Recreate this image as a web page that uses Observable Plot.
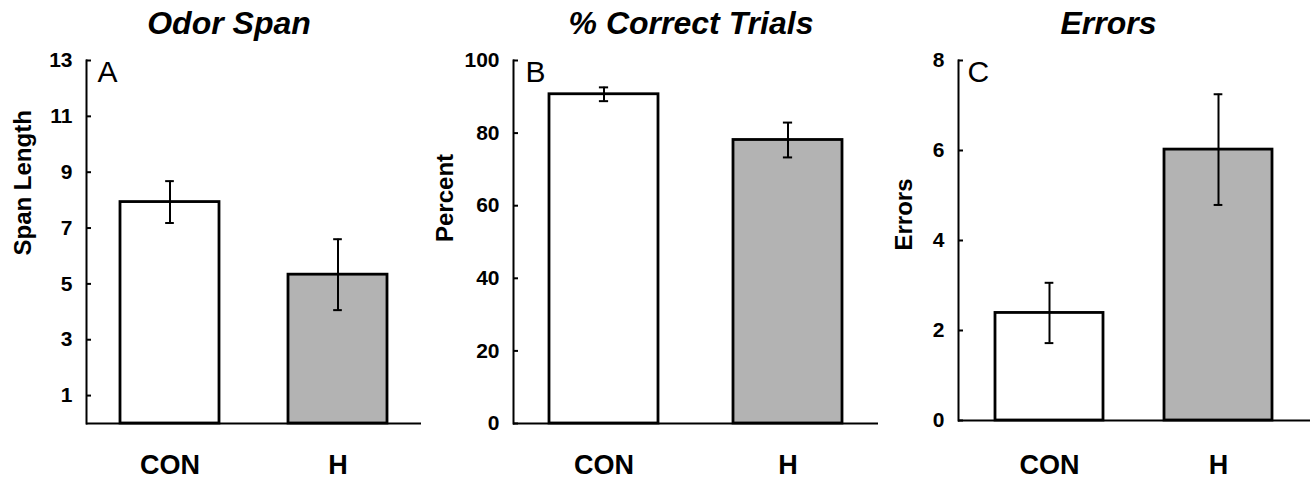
<!DOCTYPE html>
<html>
<head>
<meta charset="utf-8">
<script src="https://cdn.jsdelivr.net/npm/d3@7"></script>
<script src="https://cdn.jsdelivr.net/npm/@observablehq/plot@0.6"></script>
<style>
  html, body { margin: 0; padding: 0; background: #fff; }
  #row { display: flex; width: 1310px; height: 480px; }
  svg { overflow: visible; }
</style>
</head>
<body>
<div id="row"></div>
<script>
const groups = ["CON", "H"];

const spanMean = [7.93, 5.33];
const spanErr = [0.75, 1.27];
const spanTicks = [1, 3, 5, 7, 9, 11, 13];

const pctMean = [90.7, 78.1];
const pctErr = [1.9, 4.8];
const pctTicks = [0, 20, 40, 60, 80, 100];

const errMean = [2.39, 6.02];
const errErr = [0.67, 1.23];
const errTicks = [0, 2, 4, 6, 8];

const titles = ["Odor Span", "% Correct Trials", "Errors"];
const letters = ["A", "B", "C"];
const yLabels = ["Span Length", "Percent", "Errors"];

const font = '"Liberation Sans", Arial, Helvetica, sans-serif';

function panel(o) {
  const rows = groups.map((g, i) => ({
    group: g, mean: o.means[i], lo: o.means[i] - o.errs[i], hi: o.means[i] + o.errs[i]
  }));
  const width = o.width;
  const plotW = width - o.marginLeft - o.marginRight;
  const step = plotW / (groups.length - o.pi + 2 * o.po);
  const bw = step * (1 - o.pi);
  const capInset = (bw - 9) / 2;
  return Plot.plot({
    width,
    height: 480,
    marginLeft: o.marginLeft,
    marginRight: o.marginRight,
    marginTop: 60,
    marginBottom: o.marginBottom,
    style: { fontFamily: font, fontWeight: "bold", background: "#fff", color: "#000" },
    x: { domain: groups, paddingInner: o.pi, paddingOuter: o.po, label: null, axis: null },
    y: { domain: o.domain, label: null, axis: null },
    color: { domain: groups, range: ["#ffffff", "#b3b3b3"] },
    marks: [
      Plot.barY(rows, { x: "group", y: "mean", fill: "group", stroke: "#000", strokeWidth: 2.8 }),
      Plot.ruleX(rows, { x: "group", y1: "lo", y2: "hi", stroke: "#000", strokeWidth: 2 }),
      Plot.tickY(rows, { x: "group", y: "hi", stroke: "#000", strokeWidth: 2, insetLeft: capInset, insetRight: capInset }),
      Plot.tickY(rows, { x: "group", y: "lo", stroke: "#000", strokeWidth: 2, insetLeft: capInset, insetRight: capInset }),
      Plot.frame({ anchor: "left", stroke: "#000", strokeWidth: 2 }),
      Plot.ruleY([o.domain[0]], { stroke: "#000", strokeWidth: 2 }),
      Plot.axisY({ ticks: o.ticks, tickSize: -5, tickPadding: 19, fontSize: 21, strokeWidth: 2, tickFormat: d => String(d) }),
      Plot.axisX({ tickSize: 0, tickPadding: o.xPad, fontSize: 27 }),
      Plot.text([o.title], { frameAnchor: "top", dx: o.titleDx, dy: -27, fontSize: 32, fontStyle: "italic", lineAnchor: "bottom" }),
      Plot.text([o.letter], { frameAnchor: "top-left", dx: o.letterDx, dy: 0, fontSize: 30, fontWeight: "normal", textAnchor: "start", lineAnchor: "top" }),
      Plot.text([o.ylabel], { frameAnchor: "left", dx: o.ylabelDx, dy: o.ylabelDy, rotate: -90, fontSize: 24 })
    ]
  });
}

const row = document.getElementById("row");
row.appendChild(panel({
  width: 430, marginLeft: 86, marginRight: 9, marginBottom: 57, xPad: 31,
  domain: [0, 13], ticks: spanTicks, means: spanMean, errs: spanErr,
  pi: 0.41, po: 0.2,
  title: titles[0], titleDx: -25, letter: letters[0], letterDx: 11,
  ylabel: yLabels[0], ylabelDx: -63.5, ylabelDy: 13.5
}));
row.appendChild(panel({
  width: 450, marginLeft: 83, marginRight: 2, marginBottom: 57, xPad: 31,
  domain: [0, 100], ticks: pctTicks, means: pctMean, errs: pctErr,
  pi: 0.409, po: 0.196,
  title: titles[1], titleDx: -5, letter: letters[1], letterDx: 12,
  ylabel: yLabels[1], ylabelDx: -68, ylabelDy: 0
}));
row.appendChild(panel({
  width: 430, marginLeft: 78, marginRight: 0, marginBottom: 60, xPad: 34,
  domain: [0, 8], ticks: errTicks, means: errMean, errs: errErr,
  pi: 0.36, po: 0.22,
  title: titles[2], titleDx: -26, letter: letters[2], letterDx: 9,
  ylabel: yLabels[2], ylabelDx: -54, ylabelDy: 10
}));
</script>
</body>
</html>
